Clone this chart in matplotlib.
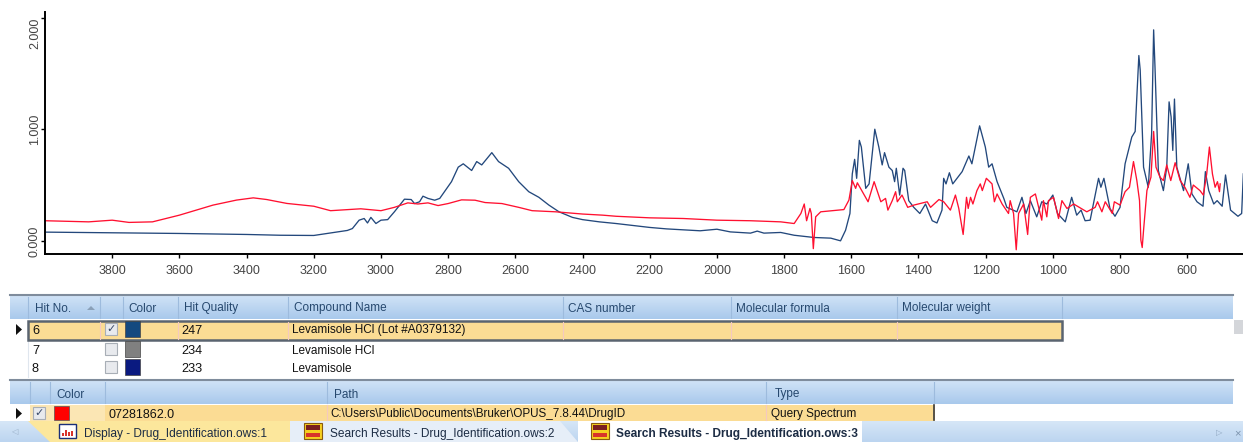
import numpy as np
import matplotlib
matplotlib.use('Agg')
import matplotlib.pyplot as plt
from matplotlib.patches import Rectangle, Polygon

plt.rcParams['font.family'] = ['Liberation Sans', 'DejaVu Sans']

# spectra: wavenumber, absorbance
blue_wn = [4000, 3600, 3400, 3300, 3200, 3150, 3100, 3085, 3065, 3050, 3040, 3030, 3015, 3000, 2980, 2960,
           2930, 2910, 2900, 2885, 2875, 2860, 2840, 2825, 2790, 2770, 2755, 2730, 2715, 2700, 2670, 2650,
           2620, 2590, 2560, 2530, 2500, 2470, 2430, 2400, 2350, 2300, 2200, 2150, 2050, 2000, 1960, 1900,
           1880, 1860, 1810, 1770, 1711, 1661, 1632, 1617, 1604, 1597, 1590, 1584, 1576, 1570, 1557, 1547,
           1530, 1518, 1508, 1501, 1488, 1478, 1471, 1466, 1456, 1446, 1441, 1429, 1414, 1396, 1379, 1359,
           1345, 1330, 1325, 1318, 1308, 1298, 1270, 1250, 1241, 1218, 1201, 1191, 1181, 1166, 1146, 1137,
           1107, 1092, 1080, 1067, 1048, 1033, 1018, 1000, 986, 963, 944, 929, 916, 904, 889, 864,
           857, 848, 830, 815, 800, 785, 765, 755, 744, 740, 730, 716, 706, 700, 696, 686,
           671, 661, 654, 648, 643, 638, 631, 611, 597, 586, 571, 553, 546, 536, 521, 511,
           496, 486, 471, 449, 438, 433]
blue_abs = [.078, .066, .057, .05, .048, .07, .093, .11, .185, .2, .16, .21, .155, .185, .19, .26,
            .373, .37, .334, .35, .40, .38, .364, .38, .53, .66, .69, .63, .71, .68, .79, .71,
            .65, .53, .44, .39, .32, .26, .21, .19, .17, .155, .12, .107, .09, .104, .08, .069,
            .087, .069, .075, .05, .03, .024, 0, .095, .245, .60, .73, .56, .90, .84, .47, .51,
            1.0, .84, .68, .79, .66, .63, .53, .65, .41, .65, .63, .36, .30, .245, .33, .18,
            .16, .275, .56, .51, .61, .51, .62, .76, .69, 1.03, .84, .66, .69, .53, .38, .30,
            .26, .39, .245, .36, .215, .35, .33, .41, .245, .17, .39, .23, .275, .18, .185, .56,
            .48, .56, .29, .22, .30, .69, .93, .98, 1.66, 1.53, .66, .48, .96, 1.89, 1.56, .63,
            .45, .66, 1.245, 1.11, .81, 1.27, .66, .45, .69, .42, .35, .31, .62, .45, .33, .36,
            .31, .59, .275, .22, .245, .6]

red_wn = [4000, 3870, 3800, 3750, 3680, 3640, 3600, 3500, 3430, 3380, 3340, 3280, 3200, 3150, 3060, 3000,
          2960, 2920, 2890, 2860, 2830, 2800, 2760, 2720, 2690, 2640, 2590, 2550, 2480, 2400, 2340, 2300,
          2200, 2100, 2000, 1900, 1810, 1770, 1750, 1740, 1733, 1723, 1719, 1713, 1706, 1691, 1622, 1607,
          1597, 1587, 1582, 1550, 1532, 1512, 1498, 1491, 1478, 1468, 1463, 1449, 1432, 1414, 1374, 1364,
          1339, 1325, 1305, 1290, 1280, 1267, 1257, 1252, 1245, 1238, 1226, 1216, 1210, 1198, 1181, 1174,
          1166, 1151, 1132, 1127, 1117, 1109, 1102, 1087, 1075, 1067, 1052, 1033, 1028, 1018, 1013, 998,
          983, 973, 958, 938, 899, 874, 867, 854, 844, 823, 817, 800, 785, 772, 760, 750,
          742, 738, 734, 730, 720, 708, 700, 693, 681, 671, 661, 649, 636, 621, 607, 592,
          582, 562, 552, 542, 534, 525, 517, 510, 504, 502]
red_abs = [.18, .17, .185, .165, .17, .2, .23, .32, .365, .385, .37, .335, .31, .27, .287, .27,
           .30, .34, .33, .34, .316, .334, .367, .364, .343, .334, .30, .27, .26, .24, .23, .22,
           .206, .2, .185, .18, .17, .155, .245, .33, .18, .29, .245, -.07, .215, .26, .28, .365,
           .54, .47, .52, .35, .53, .35, .38, .275, .36, .44, .35, .41, .30, .32, .35, .30,
           .37, .35, .275, .41, .29, .057, .39, .29, .39, .33, .45, .51, .45, .56, .51, .35,
           .42, .33, .245, .36, .245, -.08, .245, .33, .057, .39, .42, .185, .36, .215, .36, .39,
           .2, .36, .29, .33, .26, .30, .35, .26, .35, .245, .35, .32, .44, .48, .71, .54,
           .36, .006, -.06, .095, .45, .57, .98, .66, .57, .54, .68, .54, .70, .54, .48, .39,
           .5, .45, .41, .6, .84, .6, .48, .53, .44, .51]

x_ticks = [3800, 3600, 3400, 3200, 3000, 2800, 2600, 2400, 2200, 2000, 1800, 1600, 1400, 1200, 1000, 800, 600]
y_ticks = [0, 1, 2]
y_tick_labels = ['0.000', '1.000', '2.000']

hit_headers = ['Hit No.', 'Color', 'Hit Quality', 'Compound Name', 'CAS number', 'Molecular formula', 'Molecular weight']
hit_no = ['6', '7', '8']
hit_quality = ['247', '234', '233']
compound = ['Levamisole HCl (Lot #A0379132)', 'Levamisole HCl', 'Levamisole']
hit_colors = ['#14497f', '#808080', '#0a1a80']
query_headers = ['Color', 'Path', 'Type']
query_row = ['07281862.0', 'C:\\Users\\Public\\Documents\\Bruker\\OPUS_7.8.44\\DrugID', 'Query Spectrum']
tabs = ['Display - Drug_Identification.ows:1', 'Search Results - Drug_Identification.ows:2',
        'Search Results - Drug_Identification.ows:3']

W, H = 1243, 442
fig = plt.figure(figsize=(W / 100, H / 100), dpi=100)

# spectrum panel
ax = fig.add_axes([45 / W, 1 - 254 / H, (W - 45) / W, (254 - 12) / H])
ax.plot(blue_wn, blue_abs, color='#23487c', lw=0.95)
ax.plot(red_wn, red_abs, color='#ff1030', lw=0.95)
ax.set_xlim(4000, 434)
ax.set_ylim(-0.118, 2.05)
ax.set_xticks(x_ticks)
ax.set_yticks(y_ticks)
ax.set_yticklabels(y_tick_labels, rotation=90, va='center')
ax.get_yticklabels()[2].set_va('top')
ax.tick_params(length=3, width=1, labelsize=9, labelcolor='#444444')
ax.tick_params(axis='x', pad=5)
ax.tick_params(axis='y', pad=0)
ax.spines['top'].set_visible(False)
ax.spines['right'].set_visible(False)
ax.spines['left'].set_linewidth(1.4)
ax.spines['bottom'].set_linewidth(1.4)

# grid controls below, in pixel coordinates
ui = fig.add_axes([0, 0, 1, 1], zorder=-1)
ui.set_xlim(0, W)
ui.set_ylim(H, 0)
ui.axis('off')


def grad(x0, x1, y0, y1, c0='#cfe2f6', c1='#a9c9ec'):
    c0 = np.array(matplotlib.colors.to_rgb(c0))
    c1 = np.array(matplotlib.colors.to_rgb(c1))
    t = np.linspace(0, 1, 32)[:, None, None]
    ui.imshow(c0 + (c1 - c0) * t, extent=(x0, x1, y1, y0), aspect='auto', zorder=1)


def label(x, y, s, color='#111111', size=8.5, **kw):
    # baseline alignment so descenders do not shift the text in a row
    ui.text(x, y + 4.5, s, color=color, fontsize=size, va='baseline', ha='left', zorder=6, **kw)


def box(x, y, w, h, fc, ec='none', lw=0.8, z=3):
    ui.add_patch(Rectangle((x, y), w, h, fc=fc, ec=ec, lw=lw, zorder=z))


# hit table
ui.plot([10, 1233], [295, 295], color='#7f8c9c', lw=1.5, zorder=2)
grad(10, 1233, 296, 319)
for x in [28, 100, 123, 178, 288, 563, 731, 897, 1062]:
    ui.plot([x, x], [297, 318], color='#9dbbdd', lw=0.8, zorder=3)
for x, s in zip([35, 128, 184, 294, 568, 736, 902], hit_headers):
    label(x, 307, s, color='#26486e')
ui.add_patch(Polygon([[87, 310], [95, 310], [91, 306]], fc='#8aa0b8', zorder=4))

# selected row
box(28, 321, 1034, 19, '#fbdc94', ec='#5a6470', lw=1.8)
for x in [100, 178, 288, 563, 731, 897]:
    ui.plot([x, x], [322, 339], color='#f4c9c0', lw=0.8, zorder=4)
rows_y = [329, 349, 367]
for y, no, q, name, c in zip(rows_y, hit_no, hit_quality, compound, hit_colors):
    label(32, y, no, size=9.2)
    label(181, y, q, size=9.2)
    label(292, y, name)
    box(105, y - 6.5, 12, 12, '#e8eaee', ec='#a8aeb6')
    box(125, y - 8, 15, 16, c, ec='#444444', lw=0.5)
ui.text(111, 329, '\u2713', fontsize=8, color='#3a4a6a', ha='center', va='center', zorder=6,
        family=['DejaVu Sans'])
ui.plot([28, 28], [340, 377], color='#dfe6ee', lw=0.8, zorder=2)
ui.add_patch(Polygon([[16, 324], [16, 335], [22, 329.5]], fc='#111111', zorder=4))

# scrollbar of the hit table
box(1234, 320, 9, 14, '#d4d6da')

# query table
ui.plot([10, 1233], [380, 380], color='#7f8c9c', lw=1.5, zorder=2)
grad(10, 1233, 381, 404)
for x in [30, 50, 105, 327, 766, 934]:
    ui.plot([x, x], [382, 403], color='#9dbbdd', lw=0.8, zorder=3)
for x, s in zip([56, 334, 775], query_headers):
    label(x, 393, s, color='#26486e')
box(105, 405, 830, 16, '#fbdc94')
box(30, 405, 75, 16, '#fbe6b4')
ui.plot([934.5, 934.5], [405, 420], color='#3a3a3a', lw=1.2, zorder=4)
ui.plot([327, 327], [405, 420], color='#f4c9c0', lw=0.8, zorder=4)
ui.plot([766, 766], [405, 420], color='#f4c9c0', lw=0.8, zorder=4)
box(33, 407, 12, 12, '#e8eaee', ec='#a8aeb6')
ui.text(39, 413, '\u2713', fontsize=8, color='#3a4a6a', ha='center', va='center', zorder=6,
        family=['DejaVu Sans'])
box(54, 406, 15, 14, '#ff0000', ec='#555555', lw=0.5)
ui.add_patch(Polygon([[16, 408], [16, 419], [22, 413.5]], fc='#111111', zorder=4))
label(109, 413, query_row[0], size=9)
label(330, 413, query_row[1], size=8.4)
label(771, 413, query_row[2])

# tab strip
grad(0, W, 421, 442, '#d6e6f7', '#bcd5f0')
ui.add_patch(Polygon([[28, 421], [290, 421], [290, 442], [50, 442]], fc='#fce79c', zorder=3))
ui.add_patch(Polygon([[290, 421], [560, 421], [578, 442], [290, 442]], fc='#e6eef8', zorder=3))
ui.add_patch(Polygon([[578, 421], [862, 421], [862, 442], [578, 442]], fc='#ffffff', zorder=3))
for x, s, fw in zip([84, 330, 616], tabs, ['normal', 'normal', 'bold']):
    label(x, 432, s, color='#1c2c44', size=8.6, fontweight=fw)
# tab icons
box(59, 424, 17, 14, '#ffffff', ec='#1a2f78', lw=1)
for x0 in [304, 591]:
    box(x0, 423, 18, 16, '#f5d020', ec='#8a5a10', lw=0.8)
    box(x0 + 2, 425, 14, 5, '#7a1f1f')
    box(x0 + 2, 433, 14, 4, '#d8342a')
for x0, h in zip([62, 65, 68, 71], [3, 6, 4, 5]):
    box(x0, 436 - h, 2, h, '#d8342a', z=4)
ui.text(14, 432, '\u25c1', fontsize=6, color='#9ab0c8', ha='center', va='center', family=['DejaVu Sans'], zorder=6)
ui.text(1219, 433, '\u25b7', fontsize=6, color='#8fa6c0', ha='center', va='center', family=['DejaVu Sans'], zorder=6)
ui.text(1237, 433, '\u00d7', fontsize=8, color='#7c93ad', ha='center', va='center', zorder=6)

ax.patch.set_alpha(0)
fig.savefig('out.png', dpi=100)
